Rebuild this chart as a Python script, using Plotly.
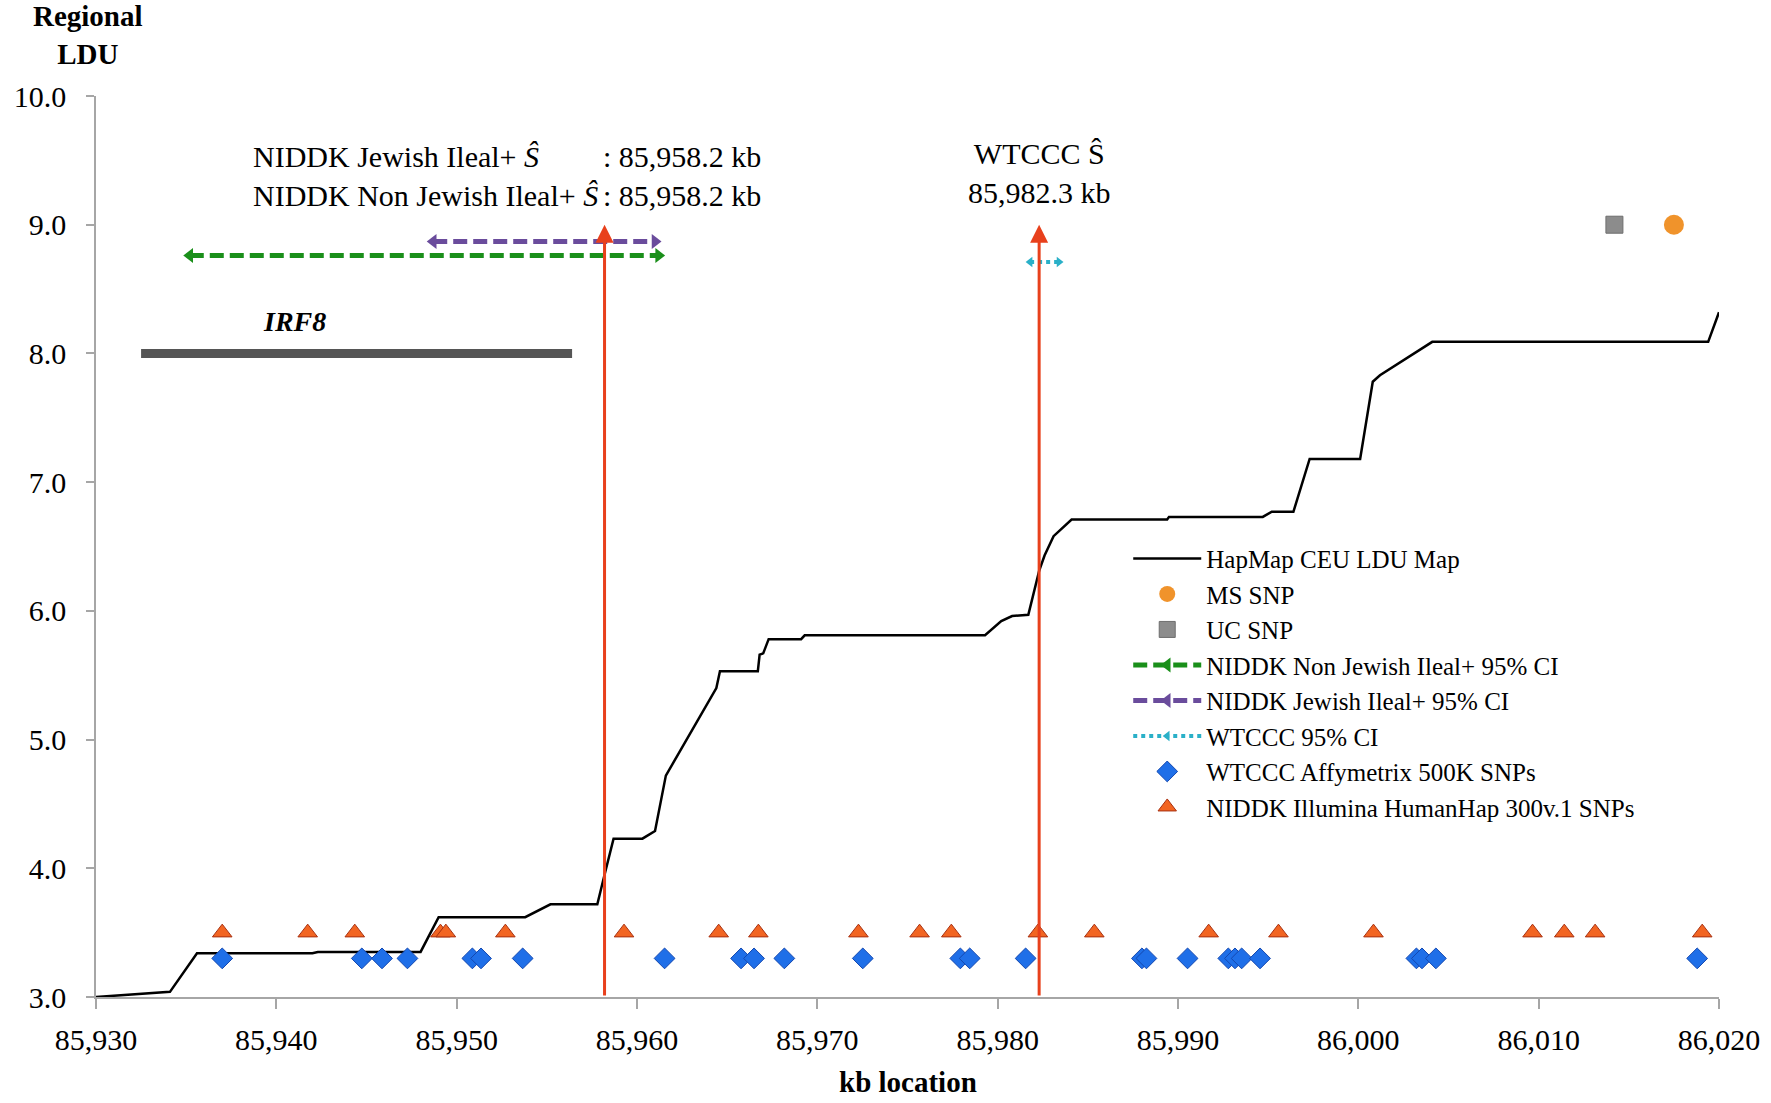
import plotly.graph_objects as go

# ---------------- data ----------------
ldu_kb = [85930, 85934.1, 85935.6, 85942.0, 85942.3, 85948.0, 85949.0, 85953.8, 85955.2,
          85957.8, 85958.2, 85958.7, 85960.3, 85961.0, 85961.6, 85964.4, 85964.6, 85966.7,
          85966.8, 85967.0, 85967.3, 85969.1, 85969.3, 85979.3, 85980.2, 85980.8, 85981.7,
          85982.3, 85982.6, 85983.1, 85984.1, 85989.4, 85989.5, 85994.7, 85995.2, 85996.4,
          85997.3, 86000.1, 86000.8, 86001.2, 86004.1, 86019.4, 86020.0]
ldu_val = [3.00, 3.04, 3.34, 3.34, 3.35, 3.35, 3.62, 3.62, 3.72,
           3.72, 3.95, 4.23, 4.23, 4.29, 4.72, 5.40, 5.53, 5.53,
           5.66, 5.67, 5.78, 5.78, 5.81, 5.81, 5.92, 5.96, 5.97,
           6.31, 6.43, 6.58, 6.71, 6.71, 6.73, 6.73, 6.77, 6.77,
           7.18, 7.18, 7.78, 7.83, 8.09, 8.09, 8.32]

ms_snp_kb = [86017.5]
ms_snp_val = [9.0]
uc_snp_kb = [86014.2]
uc_snp_val = [9.0]

nonjew_ci_kb = [85935.2, 85961.2]
nonjew_ci_val = [8.76, 8.76]
jew_ci_kb = [85948.7, 85961.0]
jew_ci_val = [8.87, 8.87]
wtccc_ci_kb = [85981.8, 85983.4]
wtccc_ci_val = [8.71, 8.71]

affy_kb = [85937.0, 85944.74, 85945.86, 85947.27, 85950.87, 85951.35, 85953.66, 85961.53,
           85965.77, 85966.49, 85968.17, 85972.52, 85977.93, 85978.45, 85981.55, 85988.0,
           85988.25, 85990.53, 85992.79, 85993.16, 85993.53, 85994.55, 86003.22, 86003.53,
           86004.30, 86018.79]
affy_val = [3.3] * len(affy_kb)

illu_kb = [85937.0, 85941.74, 85944.35, 85949.1, 85949.4, 85952.70, 85959.28, 85964.53,
           85966.73, 85972.28, 85975.67, 85977.43, 85982.23, 85985.36, 85991.70, 85995.57,
           86000.84, 86009.66, 86011.42, 86013.13, 86019.07]
illu_val = [3.5] * len(illu_kb)

irf8_kb = [85932.5, 85956.4]
irf8_val = [8.0, 8.0]

shat_kb = [85958.2, 85982.3]   # estimated S-hat positions (red arrows)
arrow_from = 3.0
arrow_to = 9.0

x_ticks = [85930, 85940, 85950, 85960, 85970, 85980, 85990, 86000, 86010, 86020]
y_ticks = [3, 4, 5, 6, 7, 8, 9, 10]

FONT = "Liberation Serif"
RED = "#e8401c"

fig = go.Figure()

# IRF8 gene bar
fig.add_trace(go.Scatter(x=irf8_kb, y=irf8_val, mode="lines",
                         line=dict(color="#555555", width=9), showlegend=False,
                         hoverinfo="skip"))

fig.add_trace(go.Scatter(x=ldu_kb, y=ldu_val, mode="lines", name="HapMap CEU LDU Map",
                         line=dict(color="black", width=2.5)))
fig.add_trace(go.Scatter(x=ms_snp_kb, y=ms_snp_val, mode="markers", name="MS SNP",
                         marker=dict(symbol="circle", size=20, color="#f0932b",
                                     line=dict(width=0))))
fig.add_trace(go.Scatter(x=uc_snp_kb, y=uc_snp_val, mode="markers", name="UC SNP",
                         marker=dict(symbol="square", size=17, color="#8c8c8c",
                                     line=dict(width=1, color="#6e6e6e"))))
fig.add_trace(go.Scatter(x=nonjew_ci_kb, y=nonjew_ci_val, mode="lines+markers",
                         name="NIDDK Non Jewish Ileal+ 95% CI",
                         line=dict(color="#1a8f1a", width=5, dash="14px,6px"),
                         marker=dict(symbol=["triangle-left", "triangle-right"], size=13,
                                     color="#1a8f1a")))
fig.add_trace(go.Scatter(x=jew_ci_kb, y=jew_ci_val, mode="lines+markers",
                         name="NIDDK Jewish Ileal+ 95% CI",
                         line=dict(color="#6a4c9c", width=5, dash="14px,6px"),
                         marker=dict(symbol=["triangle-left", "triangle-right"], size=13,
                                     color="#6a4c9c")))
fig.add_trace(go.Scatter(x=wtccc_ci_kb, y=wtccc_ci_val, mode="lines+markers",
                         name="WTCCC 95% CI",
                         line=dict(color="#2ab0c8", width=4, dash="4px,4px"),
                         marker=dict(symbol=["triangle-left", "triangle-right"], size=9,
                                     color="#2ab0c8")))
fig.add_trace(go.Scatter(x=affy_kb, y=affy_val, mode="markers",
                         name="WTCCC Affymetrix 500K SNPs",
                         marker=dict(symbol="diamond", size=16, color="#1f6fe8",
                                     line=dict(width=1, color="#1448b0"))))
fig.add_trace(go.Scatter(x=illu_kb, y=illu_val, mode="markers",
                         name="NIDDK Illumina HumanHap 300v.1 SNPs",
                         marker=dict(symbol="triangle-up", size=17, color="#f26522",
                                     line=dict(width=1, color="#a83010"))))

annotations = []
for xk in shat_kb:
    annotations.append(dict(x=xk, y=arrow_to, ax=xk, ay=arrow_from, xref="x", yref="y",
                            axref="x", ayref="y", text="", showarrow=True,
                            arrowhead=2, arrowsize=1.2, arrowwidth=3, arrowcolor=RED))

annotations += [
    dict(x=shat_kb[0] - 0.25, y=9.38, xref="x", yref="y", xanchor="right", yanchor="middle",
         align="left", showarrow=False,
         text="NIDDK Jewish Ileal+ <i>Ŝ</i><br>NIDDK Non Jewish Ileal+ <i>Ŝ</i>",
         font=dict(family=FONT, size=30, color="black")),
    dict(x=shat_kb[0] - 0.2, y=9.38, xref="x", yref="y", xanchor="left", yanchor="middle",
         align="left", showarrow=False,
         text=": 85,958.2 kb<br>: 85,958.2 kb",
         font=dict(family=FONT, size=30, color="black")),
    dict(x=shat_kb[1], y=9.40, xref="x", yref="y", xanchor="center", yanchor="middle",
         align="center", showarrow=False, text="WTCCC Ŝ<br>85,982.3 kb",
         font=dict(family=FONT, size=30, color="black")),
    dict(x=85941.0, y=8.25, xref="x", yref="y", xanchor="center", yanchor="middle",
         showarrow=False, text="<b><i>IRF8</i></b>",
         font=dict(family=FONT, size=28, color="black")),
    dict(x=0.0, y=1.0, xref="paper", yref="paper", xanchor="center", yanchor="bottom",
         xshift=-8, yshift=24, showarrow=False, align="center",
         text="<b>Regional<br>LDU</b>", font=dict(family=FONT, size=29, color="black")),
    dict(x=0.5, y=0.0, xref="paper", yref="paper", xanchor="center", yanchor="middle",
         yshift=-85, showarrow=False, text="<b>kb location</b>",
         font=dict(family=FONT, size=29, color="black")),
]

fig.update_layout(
    width=1771, height=1103,
    margin=dict(l=96, r=52, t=96, b=106),
    paper_bgcolor="white", plot_bgcolor="white",
    font=dict(family=FONT, size=28, color="black"),
    annotations=annotations,
    legend=dict(x=0.636, y=0.512, xanchor="left", yanchor="top",
                font=dict(family=FONT, size=25, color="black"),
                bgcolor="rgba(255,255,255,0)", itemwidth=68),
    xaxis=dict(range=[85930, 86020], tickvals=x_ticks, tickformat=",d",
               showline=True, linecolor="#a6a6a6", linewidth=1.5,
               ticks="outside", ticklen=10, tickcolor="#a6a6a6", tickwidth=1.5,
               showgrid=False, zeroline=False, ticklabelstandoff=5,
               tickfont=dict(family=FONT, size=30)),
    yaxis=dict(range=[3, 10], tickvals=y_ticks, tickformat=".1f",
               showline=True, linecolor="#a6a6a6", linewidth=1.5,
               ticks="outside", ticklen=8, tickcolor="#a6a6a6", tickwidth=1.5,
               showgrid=False, zeroline=False, ticklabelstandoff=14,
               tickfont=dict(family=FONT, size=30)),
)

fig.write_html("out.html")
